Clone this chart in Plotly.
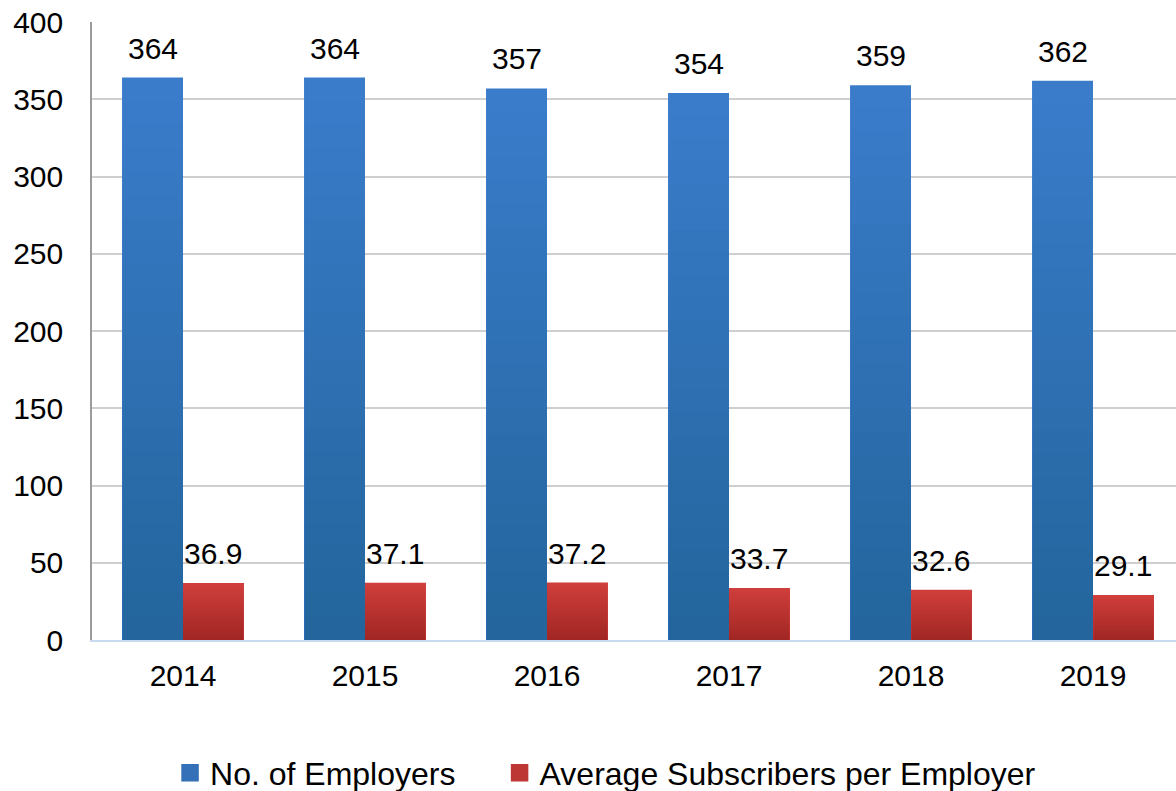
import plotly.graph_objects as go

years = ["2014", "2015", "2016", "2017", "2018", "2019"]
employers = [364, 364, 357, 354, 359, 362]
avg_subscribers = [36.9, 37.1, 37.2, 33.7, 32.6, 29.1]
y_ticks = [0, 50, 100, 150, 200, 250, 300, 350, 400]

FONT = "Liberation Sans, Arial, sans-serif"
BLUE_TOP = "#3b7dcc"
RED_TOP = "#d13f3c"
BLUE_MID = "#3470b8"
RED_MID = "#bd3835"

BAR_W = 0.335          # width of one bar in category units
SHADE_STEPS = 24       # layers used to darken bars towards the base
SHADE_ALPHA = 1 - 0.79 ** (1 / SHADE_STEPS)

fig = go.Figure()


def add_series(values, color, offset):
    # base bar in the light top colour
    fig.add_trace(go.Bar(x=years, y=values, offset=offset, width=BAR_W,
                         marker=dict(color=color, line=dict(width=0)),
                         showlegend=False, hoverinfo="skip"))
    # stacked translucent layers give a vertical top-to-bottom gradient
    for k in range(1, SHADE_STEPS + 1):
        fig.add_trace(go.Bar(x=years, y=[v * k / SHADE_STEPS for v in values],
                             offset=offset, width=BAR_W,
                             marker=dict(color=f"rgba(0,0,0,{SHADE_ALPHA:.4f})",
                                         line=dict(width=0)),
                             showlegend=False, hoverinfo="skip"))


add_series(employers, BLUE_TOP, -BAR_W)
add_series(avg_subscribers, RED_TOP, 0)

# legend entries, each in its own legend box
for name, col, leg in [("No. of Employers", BLUE_MID, "legend"),
                       ("Average Subscribers per Employer", RED_MID, "legend2")]:
    fig.add_trace(go.Scatter(x=[None], y=[None], mode="markers", name=name,
                             legend=leg,
                             marker=dict(symbol="square", size=16, color=col,
                                         line=dict(color=col, width=1.5))))

# value labels above each bar
for i, yr in enumerate(years):
    fig.add_annotation(x=i - BAR_W / 2, y=employers[i], text=str(employers[i]),
                       showarrow=False, yanchor="bottom", yshift=11,
                       font=dict(family=FONT, size=30, color="#000"))
    fig.add_annotation(x=i + BAR_W / 2, y=avg_subscribers[i], text=f"{avg_subscribers[i]:.1f}",
                       showarrow=False, yanchor="bottom", yshift=11,
                       font=dict(family=FONT, size=30, color="#000"))

legend_style = dict(orientation="h", y=-0.215, yanchor="middle", xanchor="left",
                    font=dict(family=FONT, size=32), itemsizing="trace",
                    bgcolor="rgba(0,0,0,0)")

fig.update_layout(
    width=1176, height=791,
    margin=dict(l=92, r=0, t=22, b=151, autoexpand=False),
    paper_bgcolor="white", plot_bgcolor="white",
    barmode="overlay",
    font=dict(family=FONT, size=30, color="#000"),
    showlegend=True,
    legend=dict(x=0.072, **legend_style),
    legend2=dict(x=0.376, **legend_style),
    xaxis=dict(range=[-0.5, 5.456], showgrid=False, showline=True,
               linecolor="#c9d9ee", linewidth=2, ticks="outside", ticklen=8,
               tickcolor="rgba(0,0,0,0)", tickfont=dict(size=30)),
    yaxis=dict(range=[0, 400], tickvals=y_ticks, showgrid=True, gridcolor="#cfcfcf",
               gridwidth=1.5, showline=True, linecolor="#9a9a9a", linewidth=1.5,
               ticks="outside", ticklen=21, tickcolor="rgba(0,0,0,0)",
               tickfont=dict(size=30), zeroline=False),
)

fig.write_html("out.html")
